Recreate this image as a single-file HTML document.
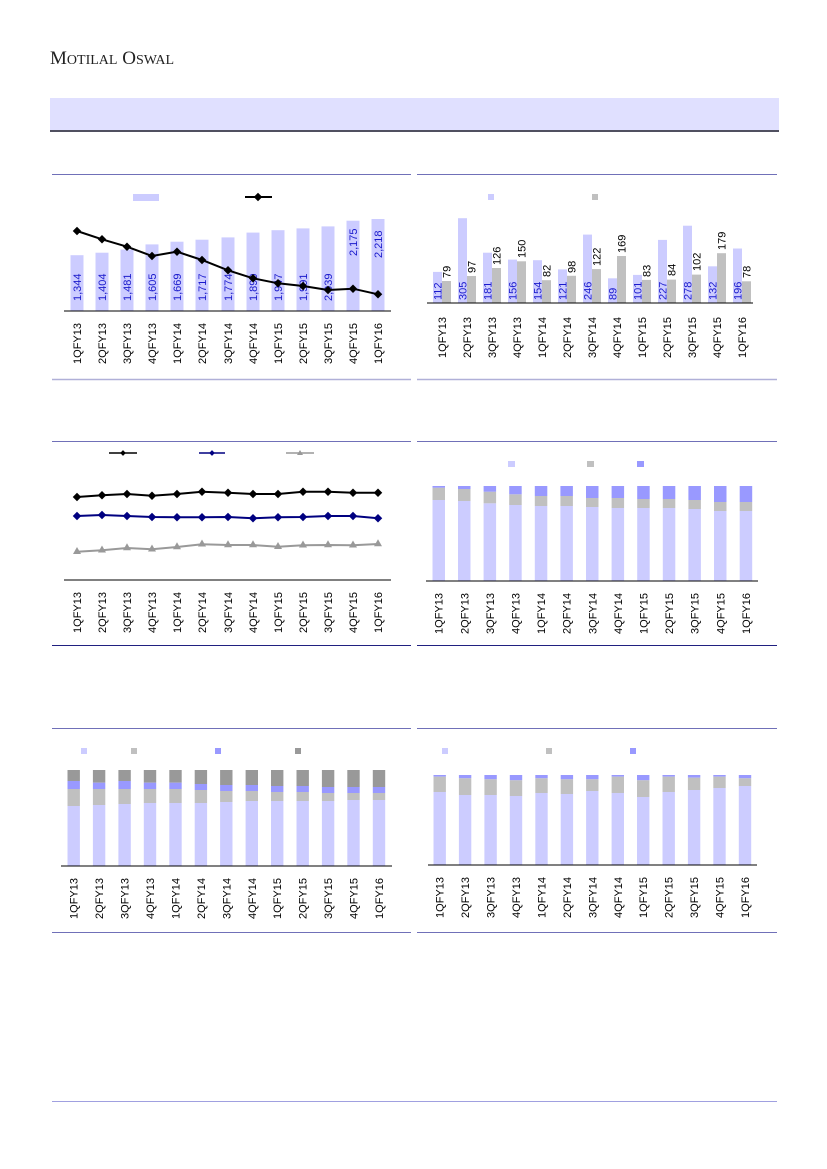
<!DOCTYPE html>
<html><head><meta charset="utf-8"><style>
html,body{margin:0;padding:0;background:#fff;}
svg{display:block;font-family:"Liberation Sans",sans-serif;}
.xl{font-size:11px;fill:#000;text-anchor:end;}
.bl{font-size:11px;fill:#1a1acc;}
.gl{font-size:11px;fill:#000;}
</style></head><body>
<svg width="827" height="1169" viewBox="0 0 827 1169" xmlns="http://www.w3.org/2000/svg">
<!-- header -->
<text x="50" y="64" font-family="Liberation Serif,serif" font-size="19" fill="#222">M<tspan font-size="14">OTILAL</tspan> O<tspan font-size="14">SWAL</tspan></text>
<rect x="50" y="98" width="729" height="33" fill="#e0e0ff"/>
<rect x="50" y="130" width="729" height="2" fill="#505060"/>
<!-- rules -->
<g stroke="#7070b8" stroke-width="1">
<line x1="52" y1="174.5" x2="411" y2="174.5"/><line x1="417" y1="174.5" x2="777" y2="174.5"/>
<line x1="52" y1="441.5" x2="411" y2="441.5"/><line x1="417" y1="441.5" x2="777" y2="441.5"/>
<line x1="52" y1="728.5" x2="411" y2="728.5"/><line x1="417" y1="728.5" x2="777" y2="728.5"/>
</g>
<g stroke="#b0b0d8" stroke-width="1.5">
<line x1="52" y1="379.5" x2="411" y2="379.5"/><line x1="417" y1="379.5" x2="777" y2="379.5"/>
</g>
<g stroke="#202080" stroke-width="1">
<line x1="52" y1="645.5" x2="411" y2="645.5"/><line x1="417" y1="645.5" x2="777" y2="645.5"/>
</g>
<g stroke="#7070b8" stroke-width="1">
<line x1="52" y1="932.5" x2="411" y2="932.5"/><line x1="417" y1="932.5" x2="777" y2="932.5"/>
</g>
<line x1="52" y1="1101.5" x2="777" y2="1101.5" stroke="#a0a0e0" stroke-width="1"/>

<!-- CHART 1 -->
<rect x="133" y="194" width="26" height="7" fill="#ccccff"/>
<line x1="245" y1="197" x2="272" y2="197" stroke="#000" stroke-width="2"/>
<rect x="255" y="194" width="6" height="6" fill="#000" transform="rotate(45 258 197)"/>
<g fill="#ccccff">
<rect x="70.5" y="255.2" width="13" height="55.8"/><rect x="95.5" y="252.7" width="13" height="58.3"/>
<rect x="120.5" y="249.5" width="13" height="61.5"/><rect x="145.5" y="244.4" width="13" height="66.6"/>
<rect x="170.5" y="241.7" width="13" height="69.3"/><rect x="195.5" y="239.7" width="13" height="71.3"/>
<rect x="221.5" y="237.4" width="13" height="73.6"/><rect x="246.5" y="232.6" width="13" height="78.4"/>
<rect x="271.5" y="230.2" width="13" height="80.8"/><rect x="296.5" y="228.4" width="13" height="82.6"/>
<rect x="321.5" y="226.4" width="13" height="84.6"/><rect x="346.5" y="220.7" width="13" height="90.3"/>
<rect x="371.5" y="219" width="13" height="92"/>
</g>
<g class="bl">
<text transform="translate(81,301) rotate(-90)">1,344</text><text transform="translate(106,301) rotate(-90)">1,404</text>
<text transform="translate(131,301) rotate(-90)">1,481</text><text transform="translate(156,301) rotate(-90)">1,605</text>
<text transform="translate(181,301) rotate(-90)">1,669</text><text transform="translate(206,301) rotate(-90)">1,717</text>
<text transform="translate(232,301) rotate(-90)">1,774</text><text transform="translate(257,301) rotate(-90)">1,890</text>
<text transform="translate(282,301) rotate(-90)">1,947</text><text transform="translate(307,301) rotate(-90)">1,991</text>
<text transform="translate(332,301) rotate(-90)">2,039</text><text transform="translate(357,256) rotate(-90)">2,175</text>
<text transform="translate(382,258) rotate(-90)">2,218</text>
</g>
<polyline fill="none" stroke="#000" stroke-width="2" points="77,231 102,239.3 127,246.7 152,256 177,251.7 202,260 228,270.3 253,278.3 278,283.3 303,286 328,290 353,288.7 378,294.3"/>
<g fill="#000">
<rect x="74" y="228" width="6" height="6" transform="rotate(45 77 231)"/><rect x="99" y="236.3" width="6" height="6" transform="rotate(45 102 239.3)"/>
<rect x="124" y="243.7" width="6" height="6" transform="rotate(45 127 246.7)"/><rect x="149" y="253" width="6" height="6" transform="rotate(45 152 256)"/>
<rect x="174" y="248.7" width="6" height="6" transform="rotate(45 177 251.7)"/><rect x="199" y="257" width="6" height="6" transform="rotate(45 202 260)"/>
<rect x="225" y="267.3" width="6" height="6" transform="rotate(45 228 270.3)"/><rect x="250" y="275.3" width="6" height="6" transform="rotate(45 253 278.3)"/>
<rect x="275" y="280.3" width="6" height="6" transform="rotate(45 278 283.3)"/><rect x="300" y="283" width="6" height="6" transform="rotate(45 303 286)"/>
<rect x="325" y="287" width="6" height="6" transform="rotate(45 328 290)"/><rect x="350" y="285.7" width="6" height="6" transform="rotate(45 353 288.7)"/>
<rect x="375" y="291.3" width="6" height="6" transform="rotate(45 378 294.3)"/>
</g>
<line x1="64" y1="311" x2="391" y2="311" stroke="#000" stroke-width="1"/>
<g class="xl">
<text transform="translate(81,323) rotate(-90)">1QFY13</text><text transform="translate(106,323) rotate(-90)">2QFY13</text>
<text transform="translate(131,323) rotate(-90)">3QFY13</text><text transform="translate(156,323) rotate(-90)">4QFY13</text>
<text transform="translate(181,323) rotate(-90)">1QFY14</text><text transform="translate(206,323) rotate(-90)">2QFY14</text>
<text transform="translate(232,323) rotate(-90)">3QFY14</text><text transform="translate(257,323) rotate(-90)">4QFY14</text>
<text transform="translate(282,323) rotate(-90)">1QFY15</text><text transform="translate(307,323) rotate(-90)">2QFY15</text>
<text transform="translate(332,323) rotate(-90)">3QFY15</text><text transform="translate(357,323) rotate(-90)">4QFY15</text>
<text transform="translate(382,323) rotate(-90)">1QFY16</text>
</g>

<!-- CHART 2 -->
<rect x="488" y="194" width="6" height="6" fill="#ccccff"/>
<rect x="592" y="194" width="6" height="6" fill="#c0c0c0"/>
<g fill="#ccccff">
<rect x="433" y="271.9" width="9" height="31.1"/><rect x="458" y="218.2" width="9" height="84.8"/>
<rect x="483" y="252.7" width="9" height="50.3"/><rect x="508" y="259.6" width="9" height="43.4"/>
<rect x="533" y="260.2" width="9" height="42.8"/><rect x="558" y="269.4" width="9" height="33.6"/>
<rect x="583" y="234.6" width="9" height="68.4"/><rect x="608" y="278.3" width="9" height="24.7"/>
<rect x="633" y="274.9" width="9" height="28.1"/><rect x="658" y="239.9" width="9" height="63.1"/>
<rect x="683" y="225.7" width="9" height="77.3"/><rect x="708" y="266.3" width="9" height="36.7"/>
<rect x="733" y="248.5" width="9" height="54.5"/>
</g>
<g fill="#c0c0c0">
<rect x="442" y="281" width="9" height="22"/><rect x="467" y="276" width="9" height="27"/>
<rect x="492" y="268" width="9" height="35"/><rect x="517" y="261.3" width="9" height="41.7"/>
<rect x="542" y="280.2" width="9" height="22.8"/><rect x="567" y="275.8" width="9" height="27.2"/>
<rect x="592" y="269.1" width="9" height="33.9"/><rect x="617" y="256" width="9" height="47"/>
<rect x="642" y="279.9" width="9" height="23.1"/><rect x="667" y="279.6" width="9" height="23.4"/>
<rect x="692" y="274.6" width="9" height="28.4"/><rect x="717" y="253.2" width="9" height="49.8"/>
<rect x="742" y="281.3" width="9" height="21.7"/>
</g>
<g class="bl">
<text transform="translate(441.5,300) rotate(-90)">112</text><text transform="translate(466.5,300) rotate(-90)">305</text>
<text transform="translate(491.5,300) rotate(-90)">181</text><text transform="translate(516.5,300) rotate(-90)">156</text>
<text transform="translate(541.5,300) rotate(-90)">154</text><text transform="translate(566.5,300) rotate(-90)">121</text>
<text transform="translate(591.5,300) rotate(-90)">246</text><text transform="translate(616.5,300) rotate(-90)">89</text>
<text transform="translate(641.5,300) rotate(-90)">101</text><text transform="translate(666.5,300) rotate(-90)">227</text>
<text transform="translate(691.5,300) rotate(-90)">278</text><text transform="translate(716.5,300) rotate(-90)">132</text>
<text transform="translate(741.5,300) rotate(-90)">196</text>
</g>
<g class="gl">
<text transform="translate(450.5,278) rotate(-90)">79</text><text transform="translate(475.5,273) rotate(-90)">97</text>
<text transform="translate(500.5,265) rotate(-90)">126</text><text transform="translate(525.5,258) rotate(-90)">150</text>
<text transform="translate(550.5,277) rotate(-90)">82</text><text transform="translate(575.5,273) rotate(-90)">98</text>
<text transform="translate(600.5,266) rotate(-90)">122</text><text transform="translate(625.5,253) rotate(-90)">169</text>
<text transform="translate(650.5,277) rotate(-90)">83</text><text transform="translate(675.5,276) rotate(-90)">84</text>
<text transform="translate(700.5,271) rotate(-90)">102</text><text transform="translate(725.5,250) rotate(-90)">179</text>
<text transform="translate(750.5,278) rotate(-90)">78</text>
</g>
<line x1="427" y1="303" x2="753" y2="303" stroke="#000" stroke-width="1"/>
<g class="xl">
<text transform="translate(446,317) rotate(-90)">1QFY13</text><text transform="translate(471,317) rotate(-90)">2QFY13</text>
<text transform="translate(496,317) rotate(-90)">3QFY13</text><text transform="translate(521,317) rotate(-90)">4QFY13</text>
<text transform="translate(546,317) rotate(-90)">1QFY14</text><text transform="translate(571,317) rotate(-90)">2QFY14</text>
<text transform="translate(596,317) rotate(-90)">3QFY14</text><text transform="translate(621,317) rotate(-90)">4QFY14</text>
<text transform="translate(646,317) rotate(-90)">1QFY15</text><text transform="translate(671,317) rotate(-90)">2QFY15</text>
<text transform="translate(696,317) rotate(-90)">3QFY15</text><text transform="translate(721,317) rotate(-90)">4QFY15</text>
<text transform="translate(746,317) rotate(-90)">1QFY16</text>
</g>

<!-- CHART 3 -->
<line x1="109" y1="453" x2="137" y2="453" stroke="#000" stroke-width="1.5"/>
<rect x="121" y="451" width="4" height="4" fill="#000" transform="rotate(45 123 453)"/>
<line x1="199" y1="453" x2="225" y2="453" stroke="#000080" stroke-width="1.5"/>
<rect x="210" y="451" width="4" height="4" fill="#000080" transform="rotate(45 212 453)"/>
<line x1="286" y1="453" x2="314" y2="453" stroke="#999" stroke-width="1.5"/>
<polygon points="300,450 303,455 297,455" fill="#999"/>
<polyline fill="none" stroke="#000" stroke-width="2" points="77,497 102,495.3 127,494 152,495.7 177,494 202,491.7 228,492.7 253,494 278,494 303,491.7 328,491.7 353,492.7 378,492.7"/>
<g fill="#000">
<rect x="74" y="494" width="6" height="6" transform="rotate(45 77 497)"/><rect x="99" y="492.3" width="6" height="6" transform="rotate(45 102 495.3)"/>
<rect x="124" y="491" width="6" height="6" transform="rotate(45 127 494)"/><rect x="149" y="492.7" width="6" height="6" transform="rotate(45 152 495.7)"/>
<rect x="174" y="491" width="6" height="6" transform="rotate(45 177 494)"/><rect x="199" y="488.7" width="6" height="6" transform="rotate(45 202 491.7)"/>
<rect x="225" y="489.7" width="6" height="6" transform="rotate(45 228 492.7)"/><rect x="250" y="491" width="6" height="6" transform="rotate(45 253 494)"/>
<rect x="275" y="491" width="6" height="6" transform="rotate(45 278 494)"/><rect x="300" y="488.7" width="6" height="6" transform="rotate(45 303 491.7)"/>
<rect x="325" y="488.7" width="6" height="6" transform="rotate(45 328 491.7)"/><rect x="350" y="489.7" width="6" height="6" transform="rotate(45 353 492.7)"/>
<rect x="375" y="489.7" width="6" height="6" transform="rotate(45 378 492.7)"/>
</g>
<polyline fill="none" stroke="#000080" stroke-width="2" points="77,516 102,515 127,516 152,517 177,517.3 202,517.3 228,517 253,518.3 278,517.3 303,517 328,516 353,516 378,518.3"/>
<g fill="#000080">
<rect x="74" y="513" width="6" height="6" transform="rotate(45 77 516)"/><rect x="99" y="512" width="6" height="6" transform="rotate(45 102 515)"/>
<rect x="124" y="513" width="6" height="6" transform="rotate(45 127 516)"/><rect x="149" y="514" width="6" height="6" transform="rotate(45 152 517)"/>
<rect x="174" y="514.3" width="6" height="6" transform="rotate(45 177 517.3)"/><rect x="199" y="514.3" width="6" height="6" transform="rotate(45 202 517.3)"/>
<rect x="225" y="514" width="6" height="6" transform="rotate(45 228 517)"/><rect x="250" y="515.3" width="6" height="6" transform="rotate(45 253 518.3)"/>
<rect x="275" y="514.3" width="6" height="6" transform="rotate(45 278 517.3)"/><rect x="300" y="514" width="6" height="6" transform="rotate(45 303 517)"/>
<rect x="325" y="513" width="6" height="6" transform="rotate(45 328 516)"/><rect x="350" y="513" width="6" height="6" transform="rotate(45 353 516)"/>
<rect x="375" y="515.3" width="6" height="6" transform="rotate(45 378 518.3)"/>
</g>
<polyline fill="none" stroke="#999" stroke-width="2" points="77,551.7 102,550.3 127,548 152,549.3 177,547 202,544.3 228,545 253,545 278,546.7 303,545.3 328,545 353,545.3 378,544"/>
<g fill="#999">
<polygon points="77,547 81,554 73,554"/><polygon points="102,545.5 106,552.5 98,552.5"/>
<polygon points="127,543.3 131,550.3 123,550.3"/><polygon points="152,544.5 156,551.5 148,551.5"/>
<polygon points="177,542.3 181,549.3 173,549.3"/><polygon points="202,539.5 206,546.5 198,546.5"/>
<polygon points="228,540.3 232,547.3 224,547.3"/><polygon points="253,540.3 257,547.3 249,547.3"/>
<polygon points="278,542 282,549 274,549"/><polygon points="303,540.5 307,547.5 299,547.5"/>
<polygon points="328,540.3 332,547.3 324,547.3"/><polygon points="353,540.5 357,547.5 349,547.5"/>
<polygon points="378,539.3 382,546.3 374,546.3"/>
</g>
<line x1="64" y1="580" x2="391" y2="580" stroke="#000" stroke-width="1"/>
<g class="xl">
<text transform="translate(81,592) rotate(-90)">1QFY13</text><text transform="translate(106,592) rotate(-90)">2QFY13</text>
<text transform="translate(131,592) rotate(-90)">3QFY13</text><text transform="translate(156,592) rotate(-90)">4QFY13</text>
<text transform="translate(181,592) rotate(-90)">1QFY14</text><text transform="translate(206,592) rotate(-90)">2QFY14</text>
<text transform="translate(232,592) rotate(-90)">3QFY14</text><text transform="translate(257,592) rotate(-90)">4QFY14</text>
<text transform="translate(282,592) rotate(-90)">1QFY15</text><text transform="translate(307,592) rotate(-90)">2QFY15</text>
<text transform="translate(332,592) rotate(-90)">3QFY15</text><text transform="translate(357,592) rotate(-90)">4QFY15</text>
<text transform="translate(382,592) rotate(-90)">1QFY16</text>
</g>

<!-- CHART 4 -->
<rect x="508" y="461" width="7" height="6" fill="#ccccff"/>
<rect x="587" y="461" width="7" height="6" fill="#c0c0c0"/>
<rect x="637" y="461" width="7" height="6" fill="#9999ff"/>
<g fill="#ccccff">
<rect x="432.5" y="500" width="12.5" height="81"/><rect x="458" y="501" width="12.5" height="80"/>
<rect x="483.6" y="503.3" width="12.5" height="77.7"/><rect x="509.2" y="505" width="12.5" height="76"/>
<rect x="534.8" y="506" width="12.5" height="75"/><rect x="560.4" y="506" width="12.5" height="75"/>
<rect x="586" y="507" width="12.5" height="74"/><rect x="611.6" y="508" width="12.5" height="73"/>
<rect x="637.2" y="508" width="12.5" height="73"/><rect x="662.8" y="508" width="12.5" height="73"/>
<rect x="688.4" y="509" width="12.5" height="72"/><rect x="714" y="511" width="12.5" height="70"/>
<rect x="739.7" y="511" width="12.5" height="70"/>
</g>
<g fill="#c0c0c0">
<rect x="432.5" y="487.7" width="12.5" height="12.3"/><rect x="458" y="489" width="12.5" height="12"/>
<rect x="483.6" y="491.7" width="12.5" height="11.6"/><rect x="509.2" y="494.3" width="12.5" height="10.7"/>
<rect x="534.8" y="496" width="12.5" height="10"/><rect x="560.4" y="496" width="12.5" height="10"/>
<rect x="586" y="498" width="12.5" height="9"/><rect x="611.6" y="498" width="12.5" height="10"/>
<rect x="637.2" y="499" width="12.5" height="9"/><rect x="662.8" y="499" width="12.5" height="9"/>
<rect x="688.4" y="500" width="12.5" height="9"/><rect x="714" y="502" width="12.5" height="9"/>
<rect x="739.7" y="502" width="12.5" height="9"/>
</g>
<g fill="#9999ff">
<rect x="432.5" y="486" width="12.5" height="1.7"/><rect x="458" y="486" width="12.5" height="3"/>
<rect x="483.6" y="486" width="12.5" height="5.7"/><rect x="509.2" y="486" width="12.5" height="8.3"/>
<rect x="534.8" y="486" width="12.5" height="10"/><rect x="560.4" y="486" width="12.5" height="10"/>
<rect x="586" y="486" width="12.5" height="12"/><rect x="611.6" y="486" width="12.5" height="12"/>
<rect x="637.2" y="486" width="12.5" height="13"/><rect x="662.8" y="486" width="12.5" height="13"/>
<rect x="688.4" y="486" width="12.5" height="14"/><rect x="714" y="486" width="12.5" height="16"/>
<rect x="739.7" y="486" width="12.5" height="16"/>
</g>
<line x1="426" y1="581" x2="758" y2="581" stroke="#000" stroke-width="1"/>
<g class="xl">
<text transform="translate(442.7,593) rotate(-90)">1QFY13</text><text transform="translate(468.3,593) rotate(-90)">2QFY13</text>
<text transform="translate(493.9,593) rotate(-90)">3QFY13</text><text transform="translate(519.5,593) rotate(-90)">4QFY13</text>
<text transform="translate(545.1,593) rotate(-90)">1QFY14</text><text transform="translate(570.7,593) rotate(-90)">2QFY14</text>
<text transform="translate(596.3,593) rotate(-90)">3QFY14</text><text transform="translate(621.9,593) rotate(-90)">4QFY14</text>
<text transform="translate(647.5,593) rotate(-90)">1QFY15</text><text transform="translate(673.1,593) rotate(-90)">2QFY15</text>
<text transform="translate(698.7,593) rotate(-90)">3QFY15</text><text transform="translate(724.3,593) rotate(-90)">4QFY15</text>
<text transform="translate(750,593) rotate(-90)">1QFY16</text>
</g>

<!-- CHART 5 -->
<rect x="81" y="748" width="6" height="6" fill="#ccccff"/>
<rect x="131" y="748" width="6" height="6" fill="#c0c0c0"/>
<rect x="215" y="748" width="6" height="6" fill="#9999ff"/>
<rect x="295" y="748" width="6" height="6" fill="#999"/>
<g fill="#999">
<rect x="67.5" y="770" width="12.4" height="11"/><rect x="92.9" y="770" width="12.4" height="12.7"/>
<rect x="118.4" y="770" width="12.4" height="11"/><rect x="143.8" y="770" width="12.4" height="12.7"/>
<rect x="169.3" y="770" width="12.4" height="12.7"/><rect x="194.7" y="770" width="12.4" height="14"/>
<rect x="220.1" y="770" width="12.4" height="15"/><rect x="245.6" y="770" width="12.4" height="15"/>
<rect x="271" y="770" width="12.4" height="16"/><rect x="296.5" y="770" width="12.4" height="16"/>
<rect x="321.9" y="770" width="12.4" height="17"/><rect x="347.3" y="770" width="12.4" height="17"/>
<rect x="372.8" y="770" width="12.4" height="17"/>
</g>
<g fill="#9999ff">
<rect x="67.5" y="781" width="12.4" height="8"/><rect x="92.9" y="782.7" width="12.4" height="6.3"/>
<rect x="118.4" y="781" width="12.4" height="8"/><rect x="143.8" y="782.7" width="12.4" height="6.3"/>
<rect x="169.3" y="782.7" width="12.4" height="6.3"/><rect x="194.7" y="784" width="12.4" height="6"/>
<rect x="220.1" y="785" width="12.4" height="6"/><rect x="245.6" y="785" width="12.4" height="6"/>
<rect x="271" y="786" width="12.4" height="6"/><rect x="296.5" y="786" width="12.4" height="6"/>
<rect x="321.9" y="787" width="12.4" height="6"/><rect x="347.3" y="787" width="12.4" height="6"/>
<rect x="372.8" y="787" width="12.4" height="6"/>
</g>
<g fill="#c0c0c0">
<rect x="67.5" y="789" width="12.4" height="17"/><rect x="92.9" y="789" width="12.4" height="16"/>
<rect x="118.4" y="789" width="12.4" height="15"/><rect x="143.8" y="789" width="12.4" height="14"/>
<rect x="169.3" y="789" width="12.4" height="14"/><rect x="194.7" y="790" width="12.4" height="13"/>
<rect x="220.1" y="791" width="12.4" height="11"/><rect x="245.6" y="791" width="12.4" height="10"/>
<rect x="271" y="792" width="12.4" height="9"/><rect x="296.5" y="792" width="12.4" height="9"/>
<rect x="321.9" y="793" width="12.4" height="8"/><rect x="347.3" y="793" width="12.4" height="7"/>
<rect x="372.8" y="793" width="12.4" height="7"/>
</g>
<g fill="#ccccff">
<rect x="67.5" y="806" width="12.4" height="60"/><rect x="92.9" y="805" width="12.4" height="61"/>
<rect x="118.4" y="804" width="12.4" height="62"/><rect x="143.8" y="803" width="12.4" height="63"/>
<rect x="169.3" y="803" width="12.4" height="63"/><rect x="194.7" y="803" width="12.4" height="63"/>
<rect x="220.1" y="802" width="12.4" height="64"/><rect x="245.6" y="801" width="12.4" height="65"/>
<rect x="271" y="801" width="12.4" height="65"/><rect x="296.5" y="801" width="12.4" height="65"/>
<rect x="321.9" y="801" width="12.4" height="65"/><rect x="347.3" y="800" width="12.4" height="66"/>
<rect x="372.8" y="800" width="12.4" height="66"/>
</g>
<line x1="61" y1="866" x2="392" y2="866" stroke="#000" stroke-width="1"/>
<g class="xl">
<text transform="translate(77.7,878) rotate(-90)">1QFY13</text><text transform="translate(103.1,878) rotate(-90)">2QFY13</text>
<text transform="translate(128.6,878) rotate(-90)">3QFY13</text><text transform="translate(154,878) rotate(-90)">4QFY13</text>
<text transform="translate(179.5,878) rotate(-90)">1QFY14</text><text transform="translate(204.9,878) rotate(-90)">2QFY14</text>
<text transform="translate(230.3,878) rotate(-90)">3QFY14</text><text transform="translate(255.8,878) rotate(-90)">4QFY14</text>
<text transform="translate(281.2,878) rotate(-90)">1QFY15</text><text transform="translate(306.7,878) rotate(-90)">2QFY15</text>
<text transform="translate(332.1,878) rotate(-90)">3QFY15</text><text transform="translate(357.5,878) rotate(-90)">4QFY15</text>
<text transform="translate(383,878) rotate(-90)">1QFY16</text>
</g>

<!-- CHART 6 -->
<rect x="442" y="748" width="6" height="6" fill="#ccccff"/>
<rect x="546" y="748" width="6" height="6" fill="#c0c0c0"/>
<rect x="630" y="748" width="6" height="6" fill="#9999ff"/>
<g fill="#9999ff">
<rect x="433.5" y="775" width="12.4" height="1.7"/><rect x="458.9" y="775" width="12.4" height="3.3"/>
<rect x="484.4" y="775" width="12.4" height="4.3"/><rect x="509.8" y="775" width="12.4" height="5.3"/>
<rect x="535.3" y="775" width="12.4" height="3.3"/><rect x="560.7" y="775" width="12.4" height="4.3"/>
<rect x="586.1" y="775" width="12.4" height="4.3"/><rect x="611.6" y="775" width="12.4" height="1.7"/>
<rect x="637" y="775" width="12.4" height="5.3"/><rect x="662.5" y="775" width="12.4" height="1.7"/>
<rect x="687.9" y="775" width="12.4" height="2.7"/><rect x="713.3" y="775" width="12.4" height="1.7"/>
<rect x="738.8" y="775" width="12.4" height="3.3"/>
</g>
<g fill="#c0c0c0">
<rect x="433.5" y="776.7" width="12.4" height="15.3"/><rect x="458.9" y="778.3" width="12.4" height="16.7"/>
<rect x="484.4" y="779.3" width="12.4" height="15.7"/><rect x="509.8" y="780.3" width="12.4" height="15.7"/>
<rect x="535.3" y="778.3" width="12.4" height="14.7"/><rect x="560.7" y="779.3" width="12.4" height="14.7"/>
<rect x="586.1" y="779.3" width="12.4" height="11.7"/><rect x="611.6" y="776.7" width="12.4" height="16.3"/>
<rect x="637" y="780.3" width="12.4" height="16.7"/><rect x="662.5" y="776.7" width="12.4" height="15.3"/>
<rect x="687.9" y="777.7" width="12.4" height="12.3"/><rect x="713.3" y="776.7" width="12.4" height="11.3"/>
<rect x="738.8" y="778.3" width="12.4" height="7.7"/>
</g>
<g fill="#ccccff">
<rect x="433.5" y="792" width="12.4" height="73"/><rect x="458.9" y="795" width="12.4" height="70"/>
<rect x="484.4" y="795" width="12.4" height="70"/><rect x="509.8" y="796" width="12.4" height="69"/>
<rect x="535.3" y="793" width="12.4" height="72"/><rect x="560.7" y="794" width="12.4" height="71"/>
<rect x="586.1" y="791" width="12.4" height="74"/><rect x="611.6" y="793" width="12.4" height="72"/>
<rect x="637" y="797" width="12.4" height="68"/><rect x="662.5" y="792" width="12.4" height="73"/>
<rect x="687.9" y="790" width="12.4" height="75"/><rect x="713.3" y="788" width="12.4" height="77"/>
<rect x="738.8" y="786" width="12.4" height="79"/>
</g>
<line x1="428" y1="865" x2="757" y2="865" stroke="#000" stroke-width="1"/>
<g class="xl">
<text transform="translate(443.7,877) rotate(-90)">1QFY13</text><text transform="translate(469.1,877) rotate(-90)">2QFY13</text>
<text transform="translate(494.6,877) rotate(-90)">3QFY13</text><text transform="translate(520,877) rotate(-90)">4QFY13</text>
<text transform="translate(545.5,877) rotate(-90)">1QFY14</text><text transform="translate(570.9,877) rotate(-90)">2QFY14</text>
<text transform="translate(596.3,877) rotate(-90)">3QFY14</text><text transform="translate(621.8,877) rotate(-90)">4QFY14</text>
<text transform="translate(647.2,877) rotate(-90)">1QFY15</text><text transform="translate(672.7,877) rotate(-90)">2QFY15</text>
<text transform="translate(698.1,877) rotate(-90)">3QFY15</text><text transform="translate(723.5,877) rotate(-90)">4QFY15</text>
<text transform="translate(749,877) rotate(-90)">1QFY16</text>
</g>
</svg>
</body></html>
